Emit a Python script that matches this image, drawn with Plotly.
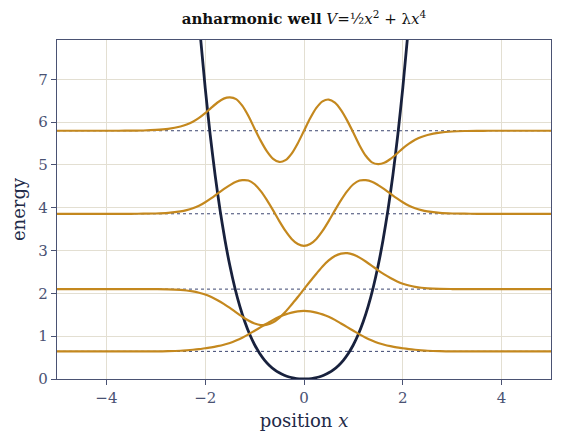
import plotly.graph_objects as go

# ---- data ----
x_grid = [-5.0, -4.75, -4.5, -4.25, -4.0, -3.75, -3.5, -3.25, -3.0, -2.75,
          -2.5, -2.375, -2.25, -2.125, -2.0, -1.875, -1.75, -1.625, -1.5, -1.375,
          -1.25, -1.125, -1.0, -0.875, -0.75, -0.625, -0.5, -0.375, -0.25, -0.125,
          0.0,
          0.125, 0.25, 0.375, 0.5, 0.625, 0.75, 0.875, 1.0, 1.125, 1.25,
          1.375, 1.5, 1.625, 1.75, 1.875, 2.0, 2.125, 2.25, 2.375, 2.5,
          2.75, 3.0, 3.25, 3.5, 3.75, 4.0, 4.25, 4.5, 4.75, 5.0]

energies = [0.645, 2.10, 3.86, 5.80]

psi0 = [0, 0, 0, 0, 0, 0, 0, 0, 0.001, 0.005,
        0.015, 0.025, 0.038, 0.054, 0.074, 0.095, 0.123, 0.156, 0.198, 0.255,
        0.321, 0.397, 0.482, 0.567, 0.652, 0.737, 0.808, 0.865, 0.907, 0.936,
        0.945,
        0.936, 0.907, 0.865, 0.808, 0.737, 0.652, 0.567, 0.482, 0.397, 0.321,
        0.255, 0.198, 0.156, 0.123, 0.095, 0.074, 0.054, 0.038, 0.025, 0.015,
        0.005, 0.001, 0, 0, 0, 0, 0, 0, 0, 0]

psi1 = [0, 0, 0, 0, 0, 0, 0, 0, -0.002, -0.006,
        -0.019, -0.032, -0.053, -0.085, -0.125, -0.185, -0.26, -0.345, -0.44, -0.545,
        -0.645, -0.735, -0.805, -0.84, -0.83, -0.775, -0.67, -0.53, -0.36, -0.185,
        0.0,
        0.185, 0.36, 0.53, 0.67, 0.775, 0.83, 0.84, 0.805, 0.735, 0.645,
        0.545, 0.44, 0.345, 0.26, 0.185, 0.125, 0.085, 0.053, 0.032, 0.019,
        0.006, 0.002, 0, 0, 0, 0, 0, 0, 0, 0]

psi2 = [0, 0, 0, 0, 0, 0, 0, 0.002, 0.006, 0.02,
        0.055, 0.085, 0.13, 0.19, 0.27, 0.365, 0.47, 0.575, 0.67, 0.75,
        0.784, 0.776, 0.69, 0.53, 0.32, 0.08, -0.17, -0.40, -0.587, -0.708,
        -0.75,
        -0.708, -0.587, -0.40, -0.17, 0.08, 0.32, 0.53, 0.69, 0.776, 0.784,
        0.75, 0.67, 0.575, 0.47, 0.365, 0.27, 0.19, 0.13, 0.085, 0.055,
        0.02, 0.006, 0.002, 0, 0, 0, 0, 0, 0, 0]

psi3 = [0, 0, 0, 0, 0, 0, 0.002, 0.006, 0.018, 0.045,
        0.10, 0.145, 0.21, 0.30, 0.41, 0.54, 0.66, 0.75, 0.779, 0.738,
        0.585, 0.343, 0.049, -0.237, -0.482, -0.656, -0.729, -0.687, -0.533, -0.29,
        0.0,
        0.29, 0.533, 0.687, 0.729, 0.656, 0.482, 0.237, -0.049, -0.343, -0.585,
        -0.738, -0.779, -0.75, -0.66, -0.54, -0.41, -0.30, -0.21, -0.145, -0.10,
        -0.045, -0.018, -0.006, -0.002, 0, 0, 0, 0, 0, 0]

pot_x = [-2.1, -2.0, -1.9, -1.8, -1.7, -1.6, -1.5, -1.4, -1.3, -1.2, -1.1,
         -1.0, -0.9, -0.8, -0.7, -0.6, -0.5, -0.4, -0.3, -0.2, -0.1, 0.0,
         0.1, 0.2, 0.3, 0.4, 0.5, 0.6, 0.7, 0.8, 0.9, 1.0,
         1.1, 1.2, 1.3, 1.4, 1.5, 1.6, 1.7, 1.8, 1.9, 2.0, 2.1]
pot_v = [8.04, 6.80, 5.715, 4.769, 3.951, 3.246, 2.644, 2.132, 1.702, 1.342, 1.044,
         0.80, 0.602, 0.443, 0.317, 0.219, 0.144, 0.088, 0.047, 0.0205, 0.005, 0.0,
         0.005, 0.0205, 0.047, 0.088, 0.144, 0.219, 0.317, 0.443, 0.602, 0.80,
         1.044, 1.342, 1.702, 2.132, 2.644, 3.246, 3.951, 4.769, 5.715, 6.80, 8.04]

x_ticks = [-4, -2, 0, 2, 4]
y_ticks = [0, 1, 2, 3, 4, 5, 6, 7]

# ---- styles ----
FONT = "DejaVu Serif"
ORANGE = "#c4881e"
NAVY = "#18213d"
AXIS = "#4a5273"
GRID = "#e3dfd2"

fig = go.Figure()

# dotted energy levels
for E in energies:
    fig.add_trace(go.Scatter(x=[x_grid[0], x_grid[-1]], y=[E, E], mode="lines",
                             line=dict(color="#3c4670", width=1, dash="dot"),
                             hoverinfo="skip", showlegend=False))

# potential
fig.add_trace(go.Scatter(x=pot_x, y=pot_v, mode="lines",
                         line=dict(color=NAVY, width=2.8, shape="spline", smoothing=0.6),
                         showlegend=False))

# wavefunctions
for E, psi in zip(energies, [psi0, psi1, psi2, psi3]):
    fig.add_trace(go.Scatter(x=x_grid, y=[E + p for p in psi], mode="lines",
                             line=dict(color=ORANGE, width=2.2, shape="spline", smoothing=0.8),
                             showlegend=False))

# the page body adds an 8px offset, so the figure is 8px smaller than the window
fig.update_layout(
    width=554, height=434,
    margin=dict(l=49, r=11, t=32, b=63),
    paper_bgcolor="white", plot_bgcolor="white",
    font=dict(family=FONT, size=15, color=AXIS),
    title=dict(text="<b>anharmonic well</b> <i>V</i>=½<i>x</i><sup>2</sup> + λ<i>x</i><sup>4</sup>",
               x=0.5, xref="paper", xanchor="center",
               y=1 - 11 / 434, yref="container", yanchor="middle",
               font=dict(family=FONT, size=15, color="#111111")),
    xaxis=dict(range=[-5, 5], tickvals=x_ticks,
               ticktext=[("\u2212" + str(-t)) if t < 0 else str(t) for t in x_ticks],
               showgrid=True, gridcolor=GRID, gridwidth=1,
               showline=True, linecolor=AXIS, linewidth=1.3, mirror=True,
               ticks="outside", ticklen=5, tickcolor=AXIS, zeroline=False,
               automargin=False,
               tickfont=dict(size=15, color=AXIS),
               title=dict(text="position <i>x</i>", font=dict(size=18, color="#222a48"), standoff=8)),
    yaxis=dict(range=[0, 7.92], tickvals=y_ticks,
               showgrid=True, gridcolor=GRID, gridwidth=1,
               showline=True, linecolor=AXIS, linewidth=1.3, mirror=True,
               ticks="outside", ticklen=5, tickcolor=AXIS, zeroline=False,
               automargin=False,
               tickfont=dict(size=15, color=AXIS),
               title=dict(text="energy", font=dict(size=18, color="#222a48"), standoff=10)),
)

fig.write_html("out.html")
